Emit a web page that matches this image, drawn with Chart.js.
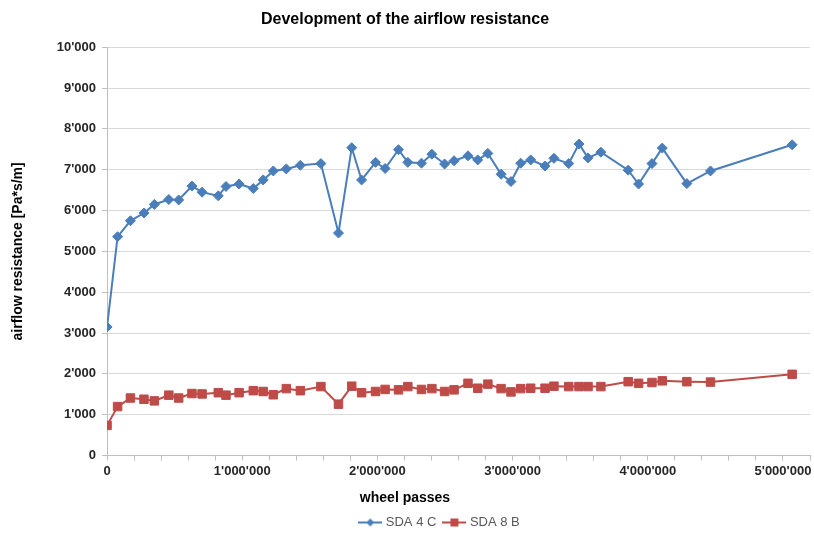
<!DOCTYPE html>
<html>
<head>
<meta charset="utf-8">
<title>Development of the airflow resistance</title>
<script src="https://cdn.jsdelivr.net/npm/chart.js@4"></script>
<style>
  html, body { margin: 0; padding: 0; background: #fff; }
  #wrap { width: 814px; height: 539px; }
</style>
</head>
<body>
<div id="wrap"><canvas id="chart"></canvas></div>
<script>
// values
const wheelPasses = [0, 78000, 173000, 273000, 350000, 457000, 530000, 628000, 703000, 823000,
    880000, 977000, 1082000, 1155000, 1230000, 1326000, 1430000, 1582000, 1712000, 1810000,
    1883000, 1986000, 2057000, 2156000, 2225000, 2326000, 2403000, 2497000, 2567000, 2670000,
    2742000, 2817000, 2915000, 2988000, 3060000, 3134000, 3240000, 3306000, 3415000, 3491000,
    3558000, 3653000, 3855000, 3932000, 4031000, 4107000, 4289000, 4464000, 5068000];
const sda4C = [3150, 5360, 5750, 5940, 6150, 6270, 6260, 6600, 6450, 6360,
    6590, 6650, 6540, 6750, 6970, 7020, 7110, 7150, 5450, 7540,
    6750, 7180, 7030, 7490, 7180, 7160, 7380, 7140, 7220, 7340,
    7240, 7400, 6890, 6710, 7160, 7240, 7090, 7280, 7150, 7630,
    7290, 7430, 6990, 6650, 7150, 7530, 6660, 6970, 7610];
const sda8B = [740, 1200, 1410, 1380, 1340, 1480, 1410, 1520, 1510, 1540,
    1480, 1540, 1590, 1570, 1490, 1640, 1590, 1690, 1260, 1700,
    1540, 1570, 1620, 1610, 1690, 1620, 1640, 1570, 1610, 1770,
    1650, 1750, 1640, 1560, 1640, 1650, 1650, 1700, 1690, 1690,
    1690, 1690, 1810, 1770, 1790, 1830, 1810, 1800, 1990];
const seriesNames = ['SDA 4 C', 'SDA 8 B'];

const blue = '#4a7ebb';
const red = '#be4b48';
const fontFamily = "'Liberation Sans', Arial, sans-serif";

// 1234567 -> 1'234'567
function swissFormat(v) {
    return String(Math.round(v)).replace(/\B(?=(\d{3})+(?!\d))/g, "'");
}

function toPoints(ys) {
    return wheelPasses.map((x, i) => ({ x: x, y: ys[i] }));
}

// legend sample: short line with the marker in the middle
function legendIcon(color, shape) {
    const c = document.createElement('canvas');
    c.width = 24;
    c.height = 12;
    const g = c.getContext('2d');
    g.strokeStyle = color;
    g.lineWidth = 2;
    g.beginPath();
    g.moveTo(0, 6);
    g.lineTo(24, 6);
    g.stroke();
    g.fillStyle = color;
    g.beginPath();
    if (shape === 'diamond') {
        g.moveTo(12, 2); g.lineTo(16, 6); g.lineTo(12, 10); g.lineTo(8, 6);
    } else {
        g.rect(8, 2, 8, 8);
    }
    g.closePath();
    g.fill();
    return c;
}
const icons = [legendIcon(blue, 'diamond'), legendIcon(red, 'square')];

// the original legend sits a bit left of the plot centre
const legendShift = {
    id: 'legendShift',
    afterLayout(chart) {
        if (chart.legend) {
            chart.legend.left -= 36;
        }
    }
};

const ctx = document.getElementById('chart');
new Chart(ctx, {
    type: 'scatter',
    data: {
        datasets: [{
            label: seriesNames[0],
            data: toPoints(sda4C),
            showLine: true,
            borderColor: blue,
            backgroundColor: blue,
            borderWidth: 2,
            pointStyle: 'rectRot',
            pointRadius: 5,
            pointBorderWidth: 1,
            pointHoverRadius: 5
        }, {
            label: seriesNames[1],
            data: toPoints(sda8B),
            showLine: true,
            borderColor: red,
            backgroundColor: red,
            borderWidth: 2,
            pointStyle: 'rect',
            pointRadius: 6,
            pointBorderWidth: 1,
            pointHoverRadius: 6
        }]
    },
    plugins: [legendShift],
    options: {
        responsive: true,
        maintainAspectRatio: false,
        animation: false,
        layout: { autoPadding: false, padding: { left: 0, right: 4, top: 0, bottom: 0 } },
        plugins: {
            title: {
                display: true,
                text: 'Development of the airflow resistance',
                color: '#000',
                font: { family: fontFamily, size: 16, weight: 'bold' },
                padding: { top: 10, bottom: 18 }
            },
            // x axis caption, centred on the whole picture like in the original
            subtitle: {
                display: true,
                position: 'bottom',
                weight: 500,
                text: 'wheel passes',
                color: '#000',
                font: { family: fontFamily, size: 14, weight: 'bold' },
                padding: { top: 8, bottom: 0 }
            },
            legend: {
                position: 'bottom',
                fullSize: false,
                weight: 1000,
                labels: {
                    usePointStyle: true,
                    pointStyleWidth: 18,
                    color: '#595959',
                    font: { family: fontFamily, size: 13 },
                    padding: 9,
                    generateLabels: (chart) => {
                        const items = Chart.defaults.plugins.legend.labels.generateLabels(chart);
                        items.forEach((it, i) => { it.pointStyle = icons[i]; });
                        return items;
                    }
                }
            },
            tooltip: { enabled: false }
        },
        scales: {
            x: {
                type: 'linear',
                min: 0,
                max: 5200000,
                afterFit: (scale) => { scale.paddingRight = 0; },
                border: { color: '#bfbfbf', width: 1 },
                grid: {
                    drawOnChartArea: false,
                    drawTicks: true,
                    tickLength: 5,
                    color: '#bfbfbf'
                },
                ticks: {
                    stepSize: 200000,
                    autoSkip: false,
                    maxRotation: 0,
                    includeBounds: false,
                    padding: 3,
                    color: '#262626',
                    font: { family: fontFamily, size: 13, weight: 'bold' },
                    callback: (v) => (Math.abs(v % 1000000) < 1 ? swissFormat(v) : '')
                }
            },
            y: {
                min: 0,
                max: 10000,
                border: { color: '#bfbfbf', width: 1 },
                grid: {
                    color: '#d9d9d9',
                    tickColor: '#bfbfbf',
                    tickLength: 5
                },
                ticks: {
                    stepSize: 1000,
                    padding: 6,
                    color: '#262626',
                    font: { family: fontFamily, size: 13, weight: 'bold' },
                    callback: (v) => swissFormat(v)
                },
                title: {
                    display: true,
                    text: 'airflow resistance [Pa*s/m]',
                    color: '#000',
                    font: { family: fontFamily, size: 14, weight: 'bold' },
                    padding: { top: 10, bottom: 24 }
                }
            }
        }
    }
});
</script>
</body>
</html>
